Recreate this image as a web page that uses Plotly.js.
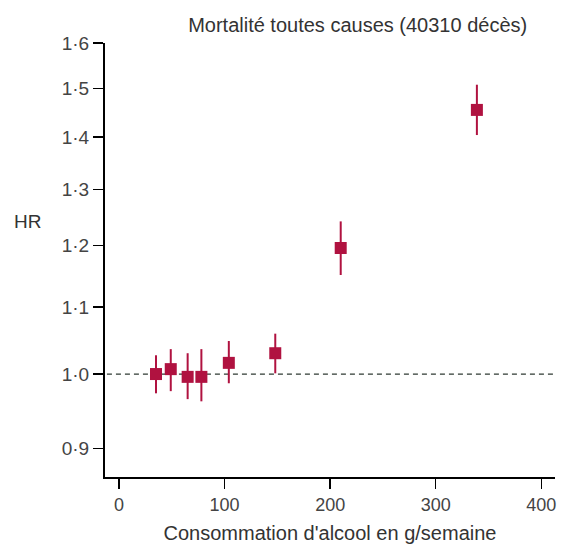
<!DOCTYPE html>
<html>
<head>
<meta charset="utf-8">
<script src="https://cdn.plot.ly/plotly-3.0.1.min.js"></script>
<style>html,body{margin:0;padding:0;background:#fff;}#chart{width:561px;height:544px;}</style>
</head>
<body>
<div id="chart"></div>
<script>
// Data
const consumption = [35, 49, 65, 78, 104, 148, 210, 339];           // g/semaine
const hr          = [1.000, 1.007, 0.996, 0.996, 1.016, 1.030, 1.196, 1.455];
const hrLower     = [0.973, 0.976, 0.965, 0.962, 0.987, 1.001, 1.151, 1.404];
const hrUpper     = [1.027, 1.036, 1.030, 1.036, 1.048, 1.059, 1.242, 1.508];
const yTickVals   = [0.9, 1.0, 1.1, 1.2, 1.3, 1.4, 1.5, 1.6];
const yTickText   = ['0·9', '1·0', '1·1', '1·2', '1·3', '1·4', '1·5', '1·6'];
const xTickVals   = [0, 100, 200, 300, 400];
const refHR = 1;

const red = '#b01240';
const font = '"Liberation Sans", Arial, sans-serif';

const refLine = {
  type: 'scatter', mode: 'lines',
  x: [-20, 420], y: [refHR, refHR],
  line: {color: '#2f3a33', width: 1.2, dash: '5px,4px'},
  hoverinfo: 'skip', showlegend: false, cliponaxis: true
};

const trace = {
  type: 'scatter',
  mode: 'markers',
  x: consumption,
  y: hr,
  marker: {symbol: 'square', size: 12, color: red},
  error_y: {
    type: 'data', symmetric: false,
    array: hrUpper.map((u, i) => u - hr[i]),
    arrayminus: hr.map((v, i) => v - hrLower[i]),
    color: red, thickness: 2, width: 0
  },
  hoverinfo: 'x+y',
  showlegend: false
};

const layout = {
  width: 561, height: 544,
  margin: {l: 105, r: 6, t: 43, b: 67},
  paper_bgcolor: '#fff', plot_bgcolor: '#fff',
  font: {family: font, color: '#444', size: 18},
  title: {
    text: 'Mortalité toutes causes (40310 décès)',
    font: {family: font, size: 20, color: '#333'},
    x: 315 / 561, xanchor: 'center', xref: 'paper',
    y: 1 - 25 / 544, yanchor: 'middle', yref: 'container'
  },
  xaxis: {
    range: [-13.3, 413],
    tickvals: xTickVals,
    ticks: 'outside', ticklen: 10, tickwidth: 1.5, tickcolor: '#000',
    showline: true, linecolor: '#000', linewidth: 2,
    showgrid: false, zeroline: false,
    tickfont: {family: font, size: 18, color: '#444'},
    title: {text: "Consommation d'alcool en g/semaine", font: {family: font, size: 20, color: '#333'}, standoff: 12},
    automargin: false
  },
  yaxis: {
    type: 'log',
    range: [Math.log10(0.864), Math.log10(1.6)],
    tickvals: yTickVals, ticktext: yTickText,
    ticks: 'outside', ticklen: 10, tickwidth: 1.5, tickcolor: '#000',
    showline: true, linecolor: '#000', linewidth: 2,
    showgrid: false, zeroline: false,
    tickfont: {family: font, size: 19, color: '#444'},
    automargin: false
  },
  annotations: [{
    text: 'HR', xref: 'paper', yref: 'paper',
    x: -78 / 450, y: (477 - 221) / 434, xanchor: 'center', yanchor: 'middle',
    showarrow: false, font: {family: font, size: 19, color: '#333'}
  }]
};

Plotly.newPlot('chart', [refLine, trace], layout, {displayModeBar: false, staticPlot: true});
</script>
</body>
</html>
